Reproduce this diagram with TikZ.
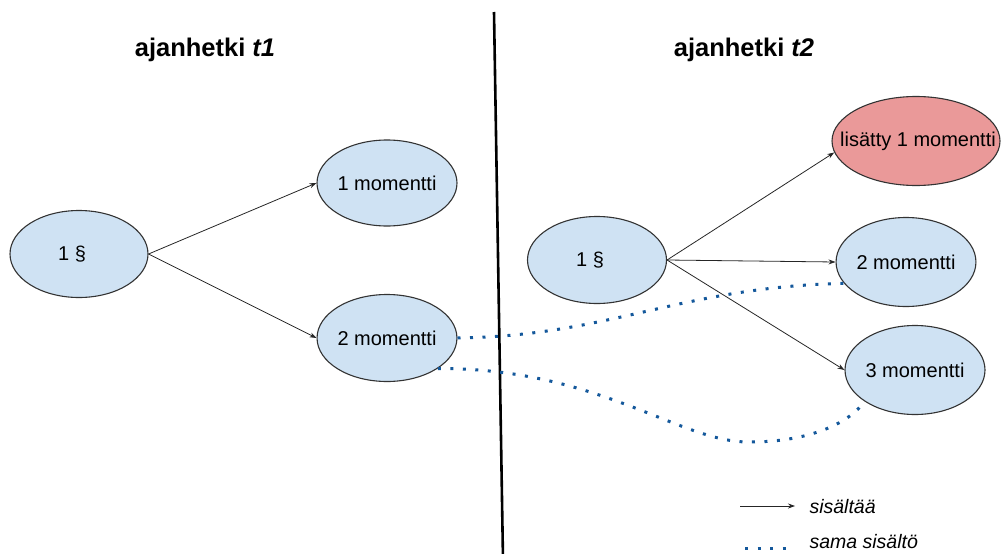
\documentclass[tikz,border=0pt]{standalone}
\usepackage{fontspec}
\setmainfont{Liberation Sans}
\usetikzlibrary{shapes.geometric,arrows.meta}
\definecolor{nodeblue}{HTML}{CFE2F3}
\definecolor{nodered}{HTML}{EA9999}
\definecolor{nodeborder}{HTML}{333333}
\definecolor{dotblue}{RGB}{20,88,155}
\tikzset{
  ell/.style={ellipse, draw=nodeborder, line width=1.1pt, fill=nodeblue, inner sep=0pt,
    font=\fontsize{20}{22}\selectfont},
  contains/.style={line width=0.8pt, draw=black!85, -{Stealth[length=7pt,width=5pt]}},
  same/.style={draw=dotblue, line width=3pt, dash pattern=on 3pt off 9.5pt},
  title/.style={font=\fontsize{25.5}{28}\selectfont\bfseries},
  legendtext/.style={anchor=west, font=\fontsize{19.5}{22}\selectfont\itshape},
}
\begin{document}
\begin{tikzpicture}[x=1pt,y=-1pt]
\useasboundingbox (0,0) rectangle (1001,554);
% divider
\coordinate (divtop) at (494,12);
\coordinate (divbot) at (503,560);
\draw[line width=2.6pt] (divtop) -- (divbot);
% titles
\node[title] (t1) at (205,50) {ajanhetki \textit{t1}};
\node[title] (t2) at (744,50) {ajanhetki \textit{t2}};
% left side
\node[ell, minimum width=138pt, minimum height=87pt] (p1) at (79,254) {1 §\rule{14pt}{0pt}};
\node[ell, minimum width=140pt, minimum height=86pt] (m1) at (387,183) {1 momentti};
\node[ell, minimum width=139pt, minimum height=87pt] (m2) at (387,338) {2 momentti};
% right side
\node[ell, minimum width=139pt, minimum height=87pt] (q1) at (597,260) {1 §\rule{14pt}{0pt}};
\node[ell, fill=nodered, minimum width=168pt, minimum height=89pt] (lis) at (916,141) {\makebox[0pt][c]{\hspace{4pt}lisätty 1 momentti}};
\node[ell, minimum width=138pt, minimum height=89pt] (n2) at (906,262) {2 momentti};
\node[ell, minimum width=140pt, minimum height=89pt] (n3) at (915,370) {3 momentti};
% contains arrows
\draw[contains] (p1.east) -- (m1.west);
\draw[contains] (p1.east) -- (m2.west);
\draw[contains] (q1.east) -- (lis.188);
\draw[contains] (q1.east) -- (n2.west);
\draw[contains] (q1.east) -- (n3.west);
% same content
\draw[same] (m2.east) .. controls (610,336) and (680,287) .. (n2.-161);
\draw[same] (m2.-31) .. controls (600,368) and (680,443) .. (750,442)
  .. controls (800,442) and (845,428) .. (n3.-148);
% legend
\coordinate (la1) at (740,506);
\coordinate (la2) at (795,506);
\draw[contains] (la1) -- (la2);
\node[legendtext] (lt1) at (806,507) {sisältää};
\coordinate (lb1) at (745,548);
\coordinate (lb2) at (792,548);
\draw[same] (lb1) -- (lb2);
\node[legendtext] (lt2) at (806,542) {sama sisältö};
\end{tikzpicture}
\end{document}
